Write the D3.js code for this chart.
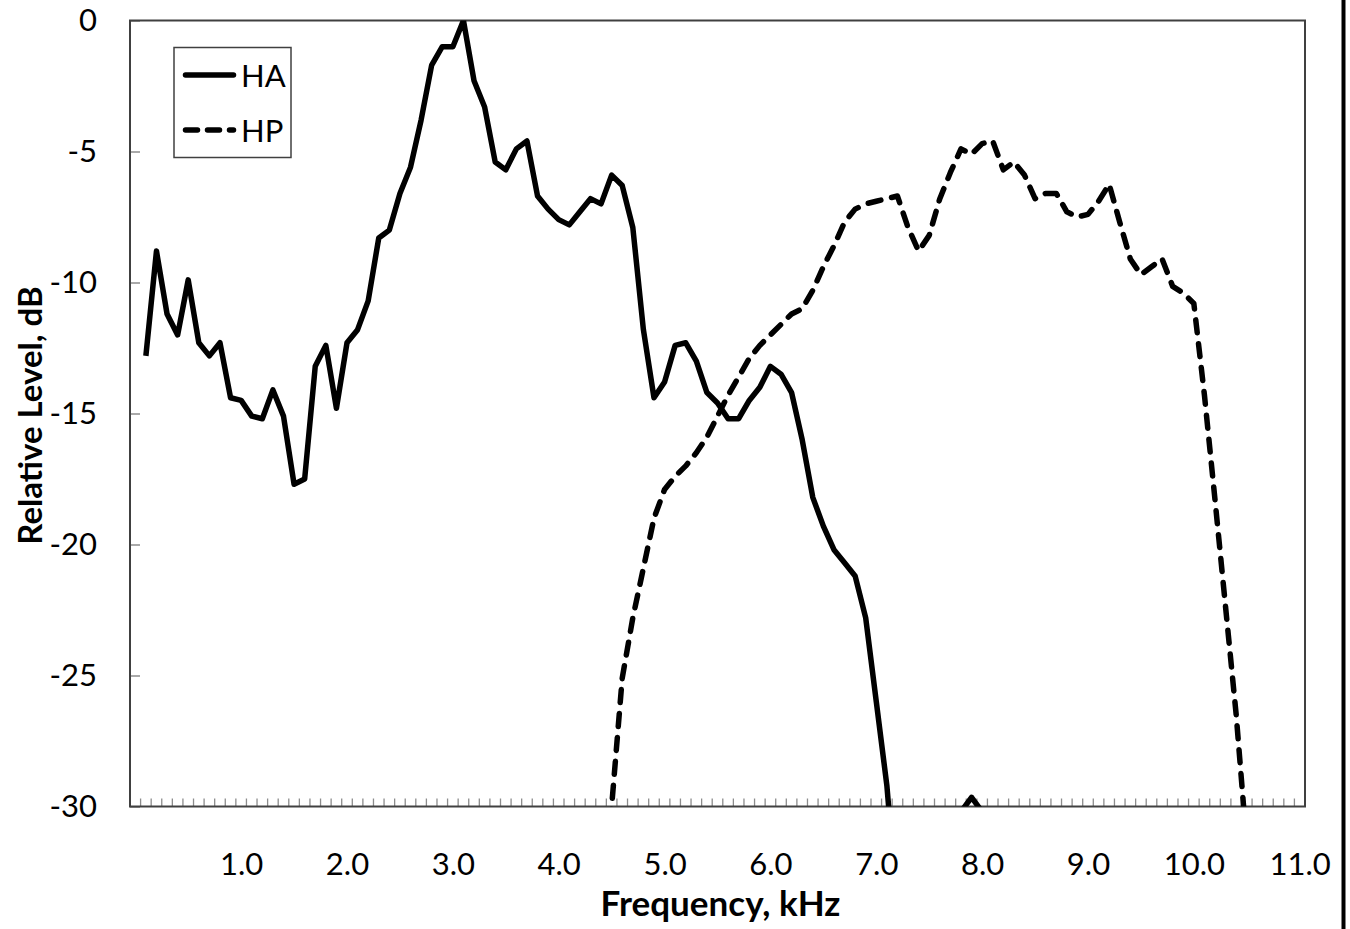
<!DOCTYPE html>
<html>
<head>
<meta charset="utf-8">
<script src="https://cdn.jsdelivr.net/npm/d3@7"></script>
<style>
    body { margin: 0; background: #fff; }
    text { font-family: Lato, "Open Sans", sans-serif; fill: #000; }
</style>
</head>
<body>
<div id="chart"></div>
<script>
// frequency categories (kHz) of the category axis
const FREQUENCIES = [
    "0.0", "0.1", "0.2", "0.3", "0.4", "0.5", "0.6", "0.7", "0.8", "0.9",
    "1.0", "1.1", "1.2", "1.3", "1.4", "1.5", "1.6", "1.7", "1.8", "1.9",
    "2.0", "2.1", "2.2", "2.3", "2.4", "2.5", "2.6", "2.7", "2.8", "2.9",
    "3.0", "3.1", "3.2", "3.3", "3.4", "3.5", "3.6", "3.7", "3.8", "3.9",
    "4.0", "4.1", "4.2", "4.3", "4.4", "4.5", "4.6", "4.7", "4.8", "4.9",
    "5.0", "5.1", "5.2", "5.3", "5.4", "5.5", "5.6", "5.7", "5.8", "5.9",
    "6.0", "6.1", "6.2", "6.3", "6.4", "6.5", "6.6", "6.7", "6.8", "6.9",
    "7.0", "7.1", "7.2", "7.3", "7.4", "7.5", "7.6", "7.7", "7.8", "7.9",
    "8.0", "8.1", "8.2", "8.3", "8.4", "8.5", "8.6", "8.7", "8.8", "8.9",
    "9.0", "9.1", "9.2", "9.3", "9.4", "9.5", "9.6", "9.7", "9.8", "9.9",
    "10.0", "10.1", "10.2", "10.3", "10.4", "10.5", "10.6", "10.7", "10.8", "10.9",
    "11.0"
];
const X_TICK_LABELS = ["1.0", "2.0", "3.0", "4.0", "5.0", "6.0", "7.0", "8.0", "9.0", "10.0", "11.0"];
const Y_TICKS = [0, -5, -10, -15, -20, -25, -30];

// HA, relative level in dB, first value at 0.1 kHz
const HA_START = "0.1";
const HA_VALUES = [
    -12.8, -8.8, -11.2, -12.0, -9.9, -12.3, -12.8, -12.3, -14.4,
    -14.5, -15.1, -15.2, -14.1, -15.1, -17.7, -17.5, -13.2, -12.4, -14.8,
    -12.3, -11.8, -10.7, -8.3, -8.0, -6.6, -5.6, -3.8, -1.7, -1.0,
    -1.0, 0.0, -2.3, -3.3, -5.4, -5.7, -4.9, -4.6, -6.7, -7.2,
    -7.6, -7.8, -7.3, -6.8, -7.0, -5.9, -6.3, -7.9, -11.8, -14.4,
    -13.8, -12.4, -12.3, -13.0, -14.2, -14.6, -15.2, -15.2, -14.5, -14.0,
    -13.2, -13.5, -14.2, -16.0, -18.2, -19.3, -20.2, -20.7, -21.2, -22.8,
    -26.0, -29.2, -34.0, -38.0, -41.0, -42.0, -39.0, -34.0, -30.2, -29.65,
    -30.2, -34.0, -38.0
];

// HP, relative level in dB, first value at 4.4 kHz
const HP_START = "4.4";
const HP_VALUES = [
    -37.0, -30.0, -25.1, -22.8, -20.9, -19.0,
    -17.9, -17.4, -17.0, -16.5, -15.9, -15.1, -14.3, -13.6, -12.9, -12.4,
    -12.0, -11.6, -11.2, -11.0, -10.3, -9.4, -8.6, -7.7, -7.2, -7.0,
    -6.9, -6.8, -6.7, -7.9, -8.8, -8.2, -6.8, -5.8, -4.9, -5.1,
    -4.7, -4.6, -5.7, -5.4, -5.9, -6.8, -6.6, -6.6, -7.3, -7.5,
    -7.4, -6.9, -6.25, -7.7, -9.1, -9.7, -9.4, -9.1, -10.15, -10.4,
    -10.8, -14.3, -18.3, -22.4, -26.5, -31.5, -36.0
];

function toSeries(start, values) {
    const first = FREQUENCIES.indexOf(start);
    return values.map(function (v, i) {
        return {freq: FREQUENCIES[first + i], value: v};
    });
}

function drawChart() {
    const width = 1350;
    const height = 929;
    const plot = {left: 130, right: 1305, top: 20.5, bottom: 806.5};

    const svg = d3.select("#chart")
                  .append("svg")
                  .attr("width", width)
                  .attr("height", height)
                  .style("display", "block");

    svg.append("rect")
       .attr("width", width)
       .attr("height", height)
       .attr("fill", "#fff");

    const x = d3.scalePoint()
                .domain(FREQUENCIES)
                .range([plot.left, plot.right])
                .padding(0.5);
    const band = d3.scaleBand()
                   .domain(FREQUENCIES)
                   .range([plot.left, plot.right]);
    const y = d3.scaleLinear()
                .domain([-30, 0])
                .range([plot.bottom, plot.top]);

    svg.append("clipPath")
       .attr("id", "plot-clip")
       .append("rect")
       .attr("x", plot.left)
       .attr("y", plot.top)
       .attr("width", plot.right - plot.left)
       .attr("height", plot.bottom - plot.top);

    // small tick marks between categories, pointing inside
    svg.append("g")
       .selectAll("line")
       .data(FREQUENCIES.slice(1))
       .enter()
       .append("line")
       .attr("x1", function (d) { return band(d); })
       .attr("x2", function (d) { return band(d); })
       .attr("y1", plot.bottom)
       .attr("y2", plot.bottom - 8)
       .attr("stroke", "#8c8c8c")
       .attr("stroke-width", 1.3);

    // y axis
    const yAxis = svg.append("g")
                     .attr("transform", "translate(" + plot.left + ",0)")
                     .call(d3.axisLeft(y)
                             .tickValues(Y_TICKS)
                             .tickSize(-10)
                             .tickPadding(33)
                             .tickFormat(function (d) { return String(d); }));
    yAxis.select(".domain").remove();
    yAxis.selectAll(".tick line").attr("stroke", "#8c8c8c").attr("stroke-width", 1.5);
    yAxis.selectAll("text")
         .style("font-size", "31px")
         .style("font-family", "Lato, sans-serif")
         .attr("fill", "#000");

    // x axis labels
    const xAxis = svg.append("g")
                     .attr("transform", "translate(0," + plot.bottom + ")")
                     .call(d3.axisBottom(x)
                             .tickValues(X_TICK_LABELS)
                             .tickSize(0)
                             .tickPadding(46));
    xAxis.select(".domain").remove();
    xAxis.selectAll("text")
         .style("font-size", "31px")
         .style("font-family", "Lato, sans-serif")
         .attr("fill", "#000");

    // plot area frame
    svg.append("rect")
       .attr("x", plot.left)
       .attr("y", plot.top)
       .attr("width", plot.right - plot.left)
       .attr("height", plot.bottom - plot.top)
       .attr("fill", "none")
       .attr("stroke", "#404040")
       .attr("stroke-width", 2);

    const line = d3.line()
                   .x(function (d) { return x(d.freq); })
                   .y(function (d) { return y(d.value); });

    const lines = svg.append("g").attr("clip-path", "url(#plot-clip)");
    lines.append("path")
         .datum(toSeries(HA_START, HA_VALUES))
         .attr("d", line)
         .attr("fill", "none")
         .attr("stroke", "#000")
         .attr("stroke-width", 5.5)
         .attr("stroke-linejoin", "round");
    lines.append("path")
         .datum(toSeries(HP_START, HP_VALUES))
         .attr("d", line)
         .attr("fill", "none")
         .attr("stroke", "#000")
         .attr("stroke-width", 5.5)
         .attr("stroke-linejoin", "round")
         .attr("stroke-linecap", "round")
         .attr("stroke-dasharray", "13,11");

    // axis titles
    svg.append("text")
       .attr("x", (plot.left + plot.right) / 2 + 3)
       .attr("y", 916)
       .attr("text-anchor", "middle")
       .style("font-size", "35px")
       .style("font-weight", "bold")
       .text("Frequency, kHz");
    svg.append("text")
       .attr("transform", "translate(42," + ((plot.top + plot.bottom) / 2 + 2) + ") rotate(-90)")
       .attr("text-anchor", "middle")
       .style("font-size", "33px")
       .style("font-weight", "bold")
       .text("Relative Level, dB");

    // legend
    const legend = svg.append("g");
    legend.append("rect")
          .attr("x", 174)
          .attr("y", 47.5)
          .attr("width", 117)
          .attr("height", 110)
          .attr("fill", "#fff")
          .attr("stroke", "#404040")
          .attr("stroke-width", 1.5);
    const entries = [
        {name: "HA", dash: null, cy: 75},
        {name: "HP", dash: "12,10", cy: 130}
    ];
    entries.forEach(function (e) {
        legend.append("line")
              .attr("x1", 185.5)
              .attr("x2", 233.5)
              .attr("y1", e.cy)
              .attr("y2", e.cy)
              .attr("stroke", "#000")
              .attr("stroke-width", 5.5)
              .attr("stroke-linecap", "round")
              .attr("stroke-dasharray", e.dash);
        legend.append("text")
              .attr("x", 241)
              .attr("y", e.cy + 12)
              .style("font-size", "31px")
              .text(e.name);
    });

    // black edge line at the right of the picture
    svg.append("line")
       .attr("x1", 1343.5)
       .attr("x2", 1343.5)
       .attr("y1", 0)
       .attr("y2", height)
       .attr("stroke", "#000")
       .attr("stroke-width", 4);
}

drawChart();
</script>
</body>
</html>
